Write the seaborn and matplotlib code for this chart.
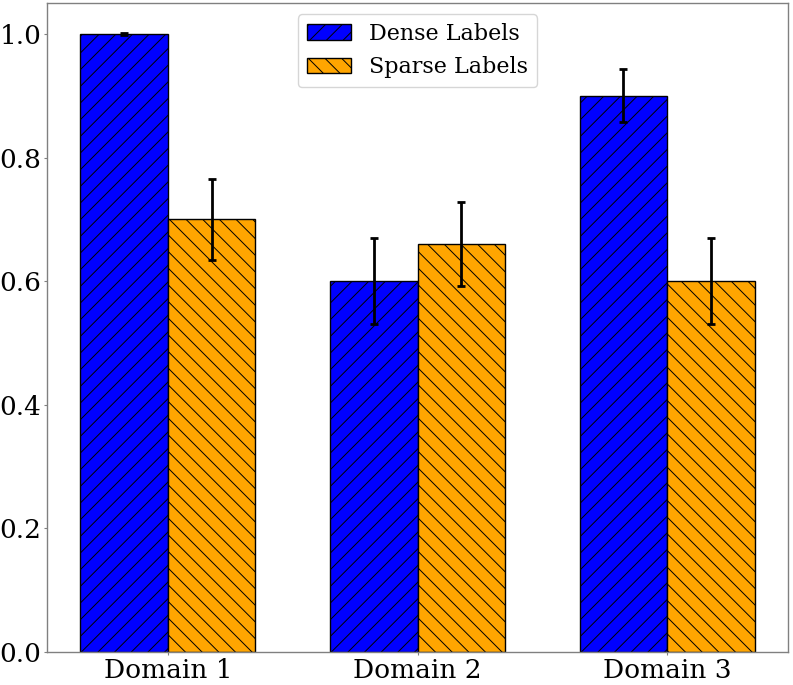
import matplotlib.pyplot as plt
import seaborn as sns
import pandas as pd

domains = ['Domain 1', 'Domain 2', 'Domain 3']
dense = [1.0, 0.6, 0.9]
sparse = [0.7, 0.66, 0.6]
dense_err = [0.001, 0.07, 0.043]
sparse_err = [0.066, 0.068, 0.07]

sns.set_style('ticks')
plt.rcParams['font.family'] = ['DejaVu Serif']
plt.rcParams['hatch.linewidth'] = 0.7
plt.rcParams['text.color'] = 'black'

df = pd.DataFrame({
    'Domain': domains * 2,
    'Score': dense + sparse,
    'Type': ['Dense Labels'] * 3 + ['Sparse Labels'] * 3,
})

fig, ax = plt.subplots(figsize=(7.93, 6.85), dpi=100)
sns.barplot(data=df, x='Domain', y='Score', hue='Type', order=domains,
            palette=['blue', 'orange'], width=0.7, errorbar=None,
            edgecolor='black', linewidth=1, saturation=1, ax=ax)

hatches = {'Dense Labels': '//', 'Sparse Labels': '\\\\'}
errs = {'Dense Labels': dense_err, 'Sparse Labels': sparse_err}
for cont, name in zip(ax.containers, ['Dense Labels', 'Sparse Labels']):
    xs = []
    ys = []
    for bar in cont:
        bar.set_hatch(hatches[name])
        xs.append(bar.get_x() + bar.get_width() / 2)
        ys.append(bar.get_height())
    ax.errorbar(xs, ys, yerr=errs[name], fmt='none', ecolor='black',
                elinewidth=2, capsize=3, capthick=2)

ax.set_xlim(-0.485, 2.485)
ax.set_ylim(0, 1.05)
ax.set_xlabel('')
ax.set_ylabel('')
ax.tick_params(labelsize=19, length=2, pad=2, color='0.5', labelcolor='black')
for s in ax.spines.values():
    s.set_visible(True)
    s.set_linewidth(1)
    s.set_color('0.5')

leg = ax.legend(loc='upper center', fontsize=16)
for h, name in zip(leg.legend_handles, ['Dense Labels', 'Sparse Labels']):
    h.set_hatch(hatches[name])
    h.set_edgecolor('black')

plt.subplots_adjust(left=0.059, right=0.994, top=0.9956, bottom=0.048)
plt.savefig('out.png', dpi=100)
